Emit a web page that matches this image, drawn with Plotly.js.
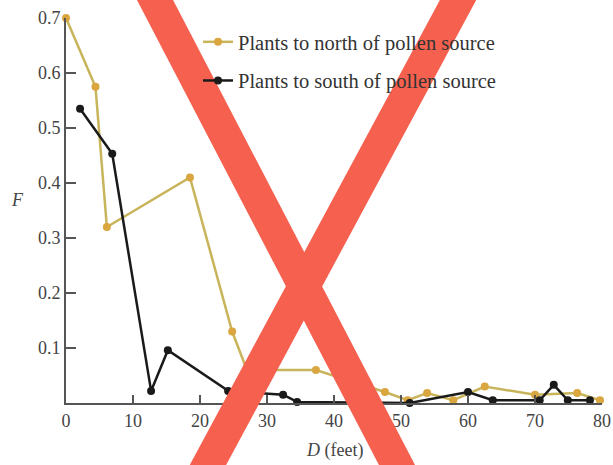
<!DOCTYPE html>
<html>
<head>
<meta charset="utf-8">
<script src="https://cdn.plot.ly/plotly-3.0.1.min.js"></script>
<style>html,body{margin:0;padding:0;background:#fff;}#chart{width:613px;height:465px;}</style>
</head>
<body>
<div id="chart"></div>
<script>
// Data
const northD = [0, 4.4, 6.1, 18.5, 24.8, 27, 37.3, 47.6, 51, 53.9, 57.8, 62.5, 70, 76.3, 79.7];
const northF = [0.70, 0.575, 0.32, 0.41, 0.13, 0.06, 0.06, 0.02, 0.005, 0.018, 0.005, 0.03, 0.015, 0.018, 0.005];
const southD = [2.1, 6.9, 12.7, 15.2, 24.2, 32.4, 34.5, 51.3, 60, 63.7, 70.7, 72.8, 74.9, 78.2];
const southF = [0.535, 0.453, 0.022, 0.096, 0.022, 0.015, 0.002, 0.0, 0.02, 0.005, 0.005, 0.033, 0.005, 0.005];
const northName = "Plants to north of pollen source";
const southName = "Plants to south of pollen source";
const xTicks = [0, 10, 20, 30, 40, 50, 60, 70, 80];
const yTicks = [0.1, 0.2, 0.3, 0.4, 0.5, 0.6, 0.7];

const serif = "Liberation Serif, DejaVu Serif, serif";

const traces = [
  {x: northD, y: northF, name: northName, mode: "lines+markers", legendgroup: "n",
   line: {color: "#c8b45a", width: 2.5}, marker: {color: "#d9a640", size: 8},
   cliponaxis: false},
  {x: southD, y: southF, name: southName, mode: "lines+markers", legendgroup: "s",
   line: {color: "#1a1a1a", width: 2.5}, marker: {color: "#1a1a1a", size: 8},
   cliponaxis: false}
];

// paper coords helpers for overlay X (pixel -> paper)
const L = 66, R = 11, T = 18, B = 62, W = 613, H = 465;
const pw = W - L - R, ph = H - T - B;
const px = v => (v - L) / pw;
const py = v => (H - B - v) / ph;

const layout = {
  width: W, height: H,
  margin: {l: L, r: R, t: T, b: B},
  paper_bgcolor: "#ffffff", plot_bgcolor: "#ffffff",
  font: {family: serif, color: "#444"},
  showlegend: true,
  legend: {x: px(198), y: py(22), xanchor: "left", yanchor: "top",
           bgcolor: "rgba(0,0,0,0)", font: {family: serif, size: 20.5, color: "#333"},
           tracegroupgap: 9, traceorder: "grouped"},
  xaxis: {range: [0, 80], tickvals: xTicks, ticks: "inside", ticklen: 8, tickwidth: 1.5,
          tickcolor: "#555", showline: true, linecolor: "#555", linewidth: 2,
          showgrid: false, zeroline: false, tickfont: {family: serif, size: 18, color: "#444"}},
  yaxis: {range: [0, 0.7], tickvals: yTicks, ticktext: yTicks.map(v => v.toFixed(1)),
          ticks: "inside", ticklen: 10, tickwidth: 1.5, tickcolor: "#555",
          showline: true, linecolor: "#555", linewidth: 2, showgrid: false, zeroline: false,
          tickfont: {family: serif, size: 18, color: "#444"}},
  annotations: [
    {xref: "paper", yref: "paper", x: 0.5, y: py(450), text: "<i>D</i> (feet)", showarrow: false,
     font: {family: serif, size: 18, color: "#444"}, xanchor: "center", yanchor: "middle"},
    {xref: "paper", yref: "paper", x: px(17), y: py(200), text: "<i>F</i>", showarrow: false,
     font: {family: serif, size: 18, color: "#444"}, xanchor: "center", yanchor: "middle"}
  ],
  shapes: [
    {type: "line", xref: "paper", yref: "paper", layer: "above",
     x0: px(155 - 0.52 * 30), y0: py(-30), x1: px(397 + 0.52 * 30), y1: py(495),
     line: {color: "#f6604f", width: 32}},
    {type: "line", xref: "paper", yref: "paper", layer: "above",
     x0: px(458 + 0.54 * 30), y0: py(-30), x1: px(208 - 0.54 * 30), y1: py(495),
     line: {color: "#f6604f", width: 32}}
  ]
};

Plotly.newPlot("chart", traces, layout, {displayModeBar: false, staticPlot: true});
</script>
</body>
</html>
